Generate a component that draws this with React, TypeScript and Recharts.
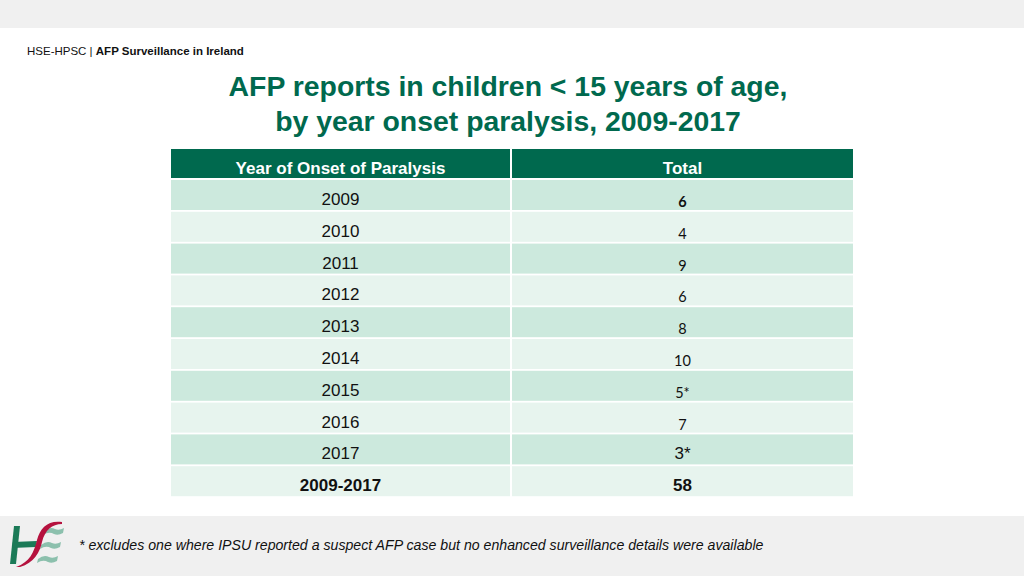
import { BarChart, Bar, XAxis, YAxis } from 'recharts';

// Table content (years, totals and the printed total labels)
const YEARS = ['2009', '2010', '2011', '2012', '2013', '2014', '2015', '2016', '2017', '2009-2017'];
const TOTALS = [6, 4, 9, 6, 8, 10, 5, 7, 3, 58];
const TOTAL_LABELS = ['6', '4', '9', '6', '8', '10', '5*', '7', '3*', '58'];
const COLUMNS = ['Year of Onset of Paralysis', 'Total'];

const TITLE_LINES = ['AFP reports in children < 15 years of age,', 'by year onset paralysis, 2009-2017'];
const FOOTNOTE = '* excludes one where IPSU reported a suspect AFP case but no enhanced surveillance details were available';

const data = YEARS.map((year, i) => ({ year, total: TOTALS[i], label: TOTAL_LABELS[i] }));

const GREEN = '#00694e';
const ROW_DARK = '#cce9dd';
const ROW_LIGHT = '#e7f4ee';
const ARIAL = '"Liberation Sans", Arial, sans-serif';
const CALIBRI = 'Lato, "Open Sans", sans-serif';

const TABLE_X = 171;
const TABLE_W = 682;
const LEFT_W = 339;
const GAP = 2;
const ROWS_TOP = 180;
const ROWS_H = 318;

function RowShape(props: any) {
  const { index, payload } = props;
  const bg = props.background ?? { x: props.x, y: props.y, width: TABLE_W, height: props.height };
  const x0 = bg.x;
  const top = bg.y;
  const h = bg.height - GAP;
  const fill = index % 2 === 0 ? ROW_DARK : ROW_LIGHT;
  const rightX = x0 + LEFT_W + GAP;
  const rightW = TABLE_W - LEFT_W - GAP;
  const isTotal = index === YEARS.length - 1;
  const arialValue = index >= 8;
  return (
    <g>
      <rect x={x0} y={top} width={LEFT_W} height={h} fill={fill} />
      <rect x={rightX} y={top} width={rightW} height={h} fill={fill} />
      <text
        x={x0 + LEFT_W / 2}
        y={top + 19.5}
        textAnchor="middle"
        dominantBaseline="central"
        fontFamily={ARIAL}
        fontSize={17}
        fontWeight={isTotal ? 'bold' : 'normal'}
        fill="#111"
      >
        {payload.year}
      </text>
      <text
        x={rightX + rightW / 2}
        y={top + (arialValue ? 19.5 : 21.5)}
        textAnchor="middle"
        dominantBaseline="central"
        fontFamily={arialValue ? ARIAL : CALIBRI}
        fontSize={arialValue ? 17 : 14.5}
        fontWeight={index === 0 || isTotal ? 'bold' : 'normal'}
        fill="#111"
      >
        {payload.label}
      </text>
    </g>
  );
}

function Logo() {
  const wave = (dx: number, dy: number) =>
    `M${44 + dx} ${531 + dy} Q${50 + dx} ${526 + dy} ${55 + dx} ${529 + dy} Q${59 + dx} ${531 + dy} ${64 + dx} ${528 + dy} ` +
    `L${63 + dx} ${533 + dy} Q${58 + dx} ${536 + dy} ${54 + dx} ${534 + dy} Q${49 + dx} ${531 + dy} ${43 + dx} ${535 + dy} Z`;
  return (
    <g>
      <path d={wave(0, 0)} fill="#8cc0ad" />
      <path d={wave(-3, 14)} fill="#8cc0ad" />
      <path d={wave(-6, 28)} fill="#8cc0ad" />
      <path d="M14 526 L20 526 L16 564 L10 564 Z" fill="#1b7a57" />
      <path d="M13 542 L37 541 L36 547 L12 548 Z" fill="#1b7a57" />
      <path
        d="M62 522 C48 520 40 528 37 540 C34 552 30 562 16 567 L20 567 C34 563 40 552 42 542 C45 530 52 524 62 524 Z"
        fill="#b5123e"
      />
    </g>
  );
}

export default function App() {
  return (
    <div style={{ position: 'absolute', left: 0, top: 0, width: 1024, height: 576, background: '#fff', overflow: 'hidden' }}>
      <svg width={1024} height={576} style={{ position: 'absolute', left: 0, top: 0 }}>
        <rect x={0} y={0} width={1024} height={28} fill="#f0f0f0" />
        <rect x={0} y={516} width={1024} height={60} fill="#f0f0f0" />
        <text x={27} y={55} fontFamily={ARIAL} fontSize={11.5} fill="#111">
          HSE-HPSC | <tspan fontWeight="bold">AFP Surveillance in Ireland</tspan>
        </text>
        {TITLE_LINES.map((line, i) => (
          <text key={line} x={508} y={96 + i * 35} textAnchor="middle" fontFamily={ARIAL} fontSize={28.4} fontWeight="bold" fill={GREEN}>
            {line}
          </text>
        ))}
        {/* header row */}
        <rect x={TABLE_X} y={149} width={LEFT_W} height={29} fill={GREEN} />
        <rect x={TABLE_X + LEFT_W + GAP} y={149} width={TABLE_W - LEFT_W - GAP} height={29} fill={GREEN} />
        <text x={TABLE_X + LEFT_W / 2} y={168} textAnchor="middle" dominantBaseline="central" fontFamily={ARIAL} fontSize={17} fontWeight="bold" fill="#fff">
          {COLUMNS[0]}
        </text>
        <text
          x={TABLE_X + LEFT_W + GAP + (TABLE_W - LEFT_W - GAP) / 2}
          y={168}
          textAnchor="middle"
          dominantBaseline="central"
          fontFamily={ARIAL}
          fontSize={17}
          fontWeight="bold"
          fill="#fff"
        >
          {COLUMNS[1]}
        </text>
        <text x={79} y={550} fontFamily={ARIAL} fontSize={14.15} fontStyle="italic" fill="#111">
          {FOOTNOTE}
        </text>
        <Logo />
      </svg>
      <div style={{ position: 'absolute', left: TABLE_X, top: ROWS_TOP }}>
        <BarChart
          width={TABLE_W}
          height={ROWS_H}
          layout="vertical"
          data={data}
          margin={{ top: 0, right: 0, bottom: 0, left: 0 }}
          barCategoryGap={0}
        >
          <XAxis type="number" hide domain={[0, 60]} />
          <YAxis type="category" dataKey="year" hide />
          <Bar dataKey="total" isAnimationActive={false} shape={<RowShape />} />
        </BarChart>
      </div>
    </div>
  );
}
